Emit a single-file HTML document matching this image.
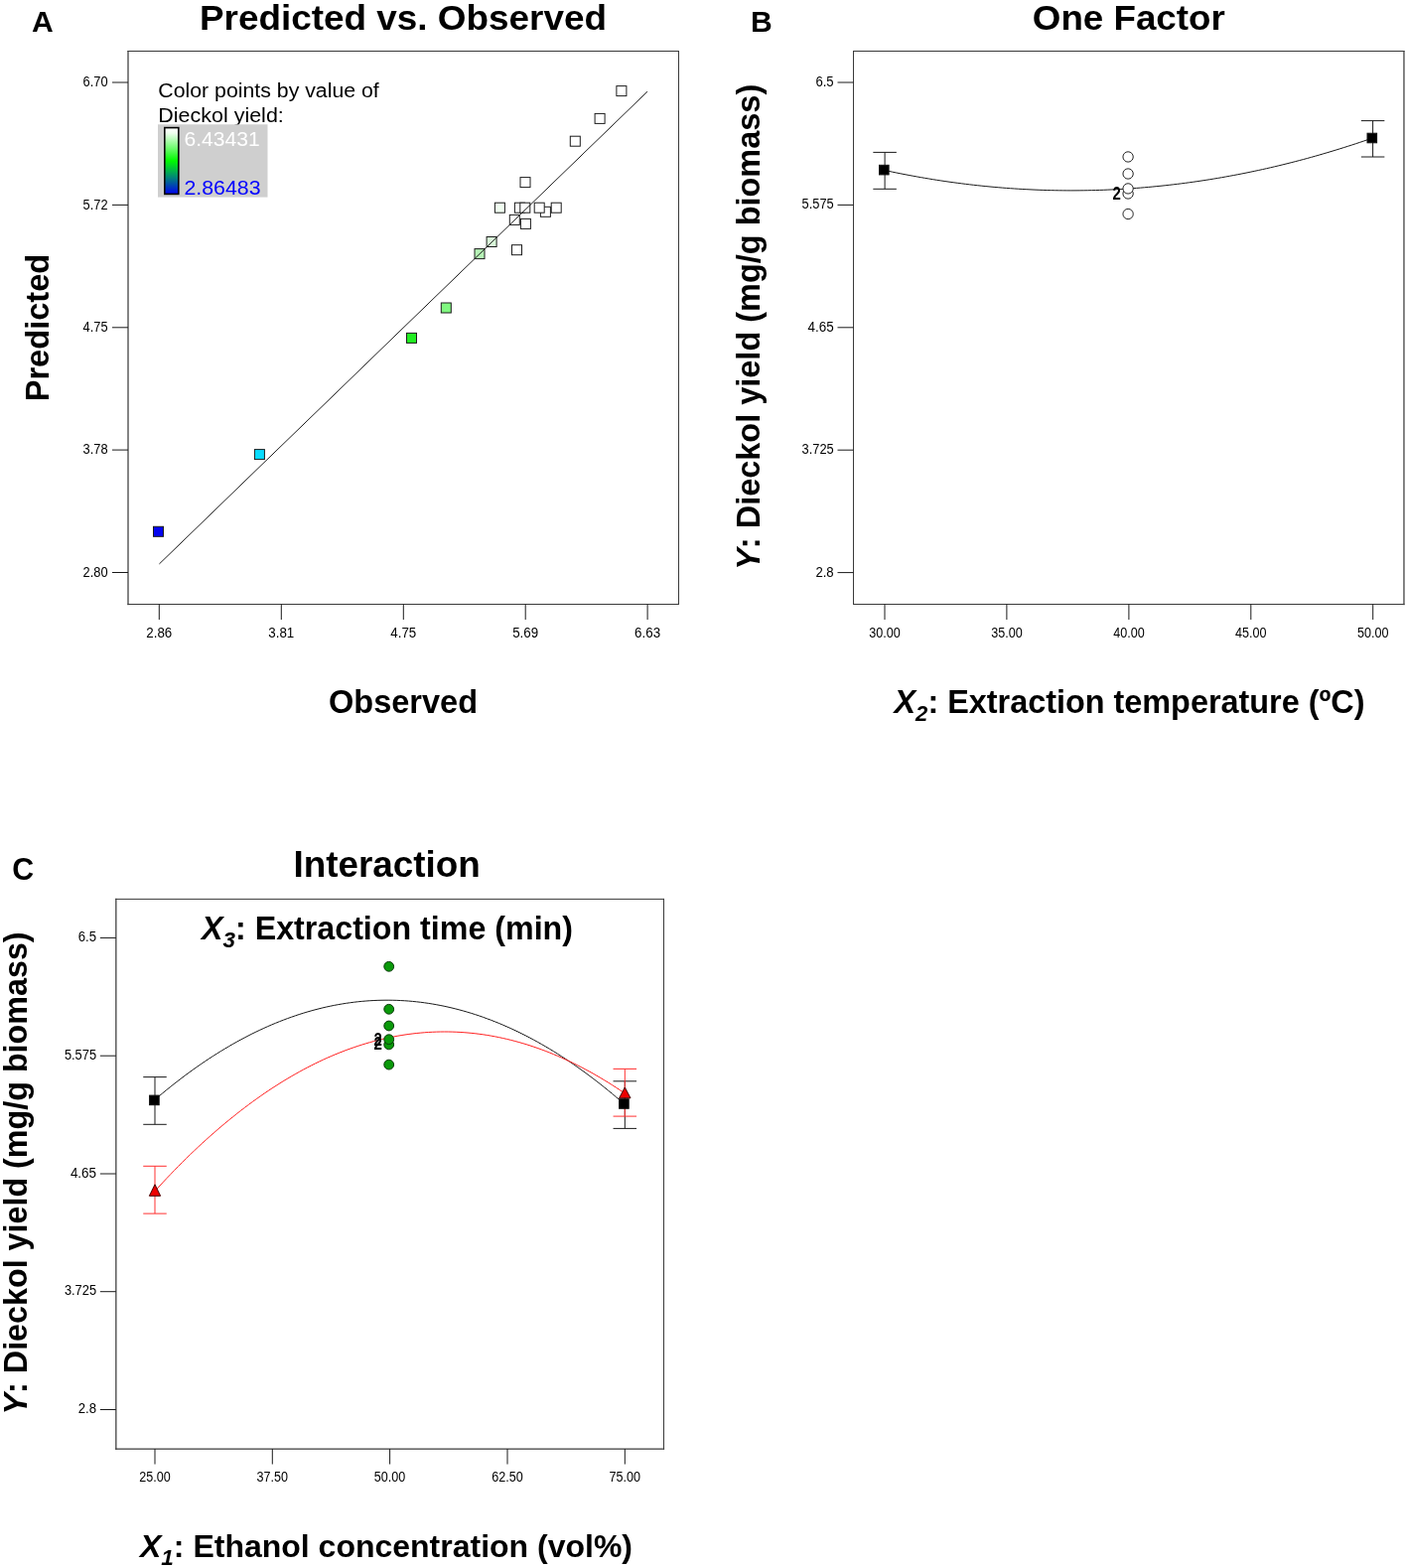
<!DOCTYPE html>
<html><head><meta charset="utf-8"><title>Figure</title>
<style>
html,body{margin:0;padding:0;background:#fff}
svg{display:block;font-family:"Liberation Sans",Arial,sans-serif}
</style></head>
<body>
<svg width="1417" height="1579" viewBox="0 0 1417 1579">
<defs><linearGradient id="cb" x1="0" y1="0" x2="0" y2="1">
<stop offset="0" stop-color="#ffffff"/><stop offset="0.08" stop-color="#f0fff0"/><stop offset="0.5" stop-color="#00fa00"/><stop offset="0.75" stop-color="#008578"/><stop offset="1" stop-color="#0000f0"/>
</linearGradient></defs>
<rect width="1417" height="1579" fill="#fff"/>
<text x="31.9" y="31.5" font-size="30.1" text-anchor="start" font-weight="bold" fill="#000">A</text>
<text x="406" y="29.8" font-size="35.8" text-anchor="middle" font-weight="bold" fill="#000" textLength="410" lengthAdjust="spacingAndGlyphs">Predicted vs. Observed</text>
<line x1="129.0" y1="51.5" x2="129.0" y2="608.5" stroke="#3a3a3a" stroke-width="1.25" stroke-linecap="square"/>
<line x1="129.0" y1="51.5" x2="683.5" y2="51.5" stroke="#3a3a3a" stroke-width="1" stroke-linecap="square"/>
<line x1="683.5" y1="51.5" x2="683.5" y2="608.5" stroke="#3a3a3a" stroke-width="1" stroke-linecap="square"/>
<line x1="129.0" y1="608.5" x2="683.5" y2="608.5" stroke="#3a3a3a" stroke-width="1" stroke-linecap="square"/>
<line x1="113.0" y1="83.0" x2="129.0" y2="83.0" stroke="#1a1a1a" stroke-width="1"/>
<text x="108.6" y="87.2" font-size="14.5" text-anchor="end" font-weight="normal" fill="#000" textLength="25.0" lengthAdjust="spacingAndGlyphs">6.70</text>
<line x1="113.0" y1="206.4" x2="129.0" y2="206.4" stroke="#1a1a1a" stroke-width="1"/>
<text x="108.6" y="210.6" font-size="14.5" text-anchor="end" font-weight="normal" fill="#000" textLength="25.0" lengthAdjust="spacingAndGlyphs">5.72</text>
<line x1="113.0" y1="329.8" x2="129.0" y2="329.8" stroke="#1a1a1a" stroke-width="1"/>
<text x="108.6" y="334.0" font-size="14.5" text-anchor="end" font-weight="normal" fill="#000" textLength="25.0" lengthAdjust="spacingAndGlyphs">4.75</text>
<line x1="113.0" y1="453.1" x2="129.0" y2="453.1" stroke="#1a1a1a" stroke-width="1"/>
<text x="108.6" y="457.3" font-size="14.5" text-anchor="end" font-weight="normal" fill="#000" textLength="25.0" lengthAdjust="spacingAndGlyphs">3.78</text>
<line x1="113.0" y1="576.5" x2="129.0" y2="576.5" stroke="#1a1a1a" stroke-width="1"/>
<text x="108.6" y="580.7" font-size="14.5" text-anchor="end" font-weight="normal" fill="#000" textLength="25.0" lengthAdjust="spacingAndGlyphs">2.80</text>
<line x1="160.3" y1="608.5" x2="160.3" y2="624.0" stroke="#1a1a1a" stroke-width="1"/>
<text x="160.3" y="642" font-size="14.5" text-anchor="middle" font-weight="normal" fill="#000" textLength="26" lengthAdjust="spacingAndGlyphs">2.86</text>
<line x1="283.3" y1="608.5" x2="283.3" y2="624.0" stroke="#1a1a1a" stroke-width="1"/>
<text x="283.3" y="642" font-size="14.5" text-anchor="middle" font-weight="normal" fill="#000" textLength="26" lengthAdjust="spacingAndGlyphs">3.81</text>
<line x1="406.3" y1="608.5" x2="406.3" y2="624.0" stroke="#1a1a1a" stroke-width="1"/>
<text x="406.3" y="642" font-size="14.5" text-anchor="middle" font-weight="normal" fill="#000" textLength="26" lengthAdjust="spacingAndGlyphs">4.75</text>
<line x1="529.2" y1="608.5" x2="529.2" y2="624.0" stroke="#1a1a1a" stroke-width="1"/>
<text x="529.2" y="642" font-size="14.5" text-anchor="middle" font-weight="normal" fill="#000" textLength="26" lengthAdjust="spacingAndGlyphs">5.69</text>
<line x1="652.1" y1="608.5" x2="652.1" y2="624.0" stroke="#1a1a1a" stroke-width="1"/>
<text x="652.1" y="642" font-size="14.5" text-anchor="middle" font-weight="normal" fill="#000" textLength="26" lengthAdjust="spacingAndGlyphs">6.63</text>
<text transform="translate(49.2,404.3) rotate(-90)" font-size="33.5" font-weight="bold" textLength="148.5" lengthAdjust="spacingAndGlyphs">Predicted</text>
<text x="406" y="718.1" font-size="32.3" text-anchor="middle" font-weight="bold" fill="#000" textLength="150" lengthAdjust="spacingAndGlyphs">Observed</text>
<text x="159.3" y="98.3" font-size="20" text-anchor="start" font-weight="normal" fill="#000" textLength="222.5" lengthAdjust="spacingAndGlyphs">Color points by value of</text>
<text x="159.3" y="123.1" font-size="20" text-anchor="start" font-weight="normal" fill="#000" textLength="126.5" lengthAdjust="spacingAndGlyphs">Dieckol yield:</text>
<rect x="159" y="125.3" width="110.5" height="73.3" fill="#cfcfcf"/>
<rect x="165.8" y="128.6" width="14" height="66.8" fill="url(#cb)" stroke="#000" stroke-width="1.6"/>
<text x="185.5" y="146.8" font-size="20" text-anchor="start" font-weight="normal" fill="#fff" textLength="76.2" lengthAdjust="spacingAndGlyphs">6.43431</text>
<text x="185.5" y="195.6" font-size="20" text-anchor="start" font-weight="normal" fill="#0000ff" textLength="77" lengthAdjust="spacingAndGlyphs">2.86483</text>
<rect x="620.9" y="86.6" width="10" height="10" fill="#fff" stroke="#1c1c1c" stroke-width="1"/>
<rect x="599.1" y="114.4" width="10" height="10" fill="#fff" stroke="#1c1c1c" stroke-width="1"/>
<rect x="574.3" y="137.2" width="10" height="10" fill="#fff" stroke="#1c1c1c" stroke-width="1"/>
<rect x="524.0" y="178.6" width="10" height="10" fill="#fff" stroke="#1c1c1c" stroke-width="1"/>
<rect x="498.4" y="204.2" width="10" height="10" fill="#f0fdf0" stroke="#1c1c1c" stroke-width="1"/>
<rect x="518.4" y="204.2" width="10" height="10" fill="#fff" stroke="#1c1c1c" stroke-width="1"/>
<rect x="523.8" y="204.2" width="10" height="10" fill="#fff" stroke="#1c1c1c" stroke-width="1"/>
<rect x="544.4" y="208.3" width="10" height="10" fill="#fff" stroke="#1c1c1c" stroke-width="1"/>
<rect x="538.2" y="204.2" width="10" height="10" fill="#fff" stroke="#1c1c1c" stroke-width="1"/>
<rect x="555.2" y="204.2" width="10" height="10" fill="#fff" stroke="#1c1c1c" stroke-width="1"/>
<rect x="513.3" y="216.4" width="10" height="10" fill="#fff" stroke="#1c1c1c" stroke-width="1"/>
<rect x="524.4" y="220.4" width="10" height="10" fill="#fff" stroke="#1c1c1c" stroke-width="1"/>
<rect x="515.5" y="246.7" width="10" height="10" fill="#fff" stroke="#1c1c1c" stroke-width="1"/>
<rect x="490.1" y="238.5" width="10" height="10" fill="#d9f9d9" stroke="#1c1c1c" stroke-width="1"/>
<rect x="478.0" y="250.6" width="10" height="10" fill="#b5f1b5" stroke="#1c1c1c" stroke-width="1"/>
<rect x="444.3" y="305.0" width="10" height="10" fill="#80f880" stroke="#1c1c1c" stroke-width="1"/>
<rect x="409.5" y="335.4" width="10" height="10" fill="#22ee22" stroke="#1c1c1c" stroke-width="1"/>
<rect x="256.4" y="452.6" width="10" height="10" fill="#08dcff" stroke="#1c1c1c" stroke-width="1"/>
<rect x="154.5" y="530.3" width="10" height="10" fill="#0505f0" stroke="#1c1c1c" stroke-width="1"/>
<line x1="160.4" y1="567.9" x2="652" y2="92.2" stroke="#1a1a1a" stroke-width="1"/>
<text x="756.0" y="31.5" font-size="30.1" text-anchor="start" font-weight="bold" fill="#000">B</text>
<text x="1136.8" y="29.8" font-size="35.8" text-anchor="middle" font-weight="bold" fill="#000" textLength="194" lengthAdjust="spacingAndGlyphs">One Factor</text>
<line x1="859.5" y1="51.5" x2="859.5" y2="608.5" stroke="#3a3a3a" stroke-width="1" stroke-linecap="square"/>
<line x1="859.5" y1="51.5" x2="1413.95" y2="51.5" stroke="#3a3a3a" stroke-width="1" stroke-linecap="square"/>
<line x1="1413.95" y1="51.5" x2="1413.95" y2="608.5" stroke="#3a3a3a" stroke-width="1.25" stroke-linecap="square"/>
<line x1="859.5" y1="608.5" x2="1413.95" y2="608.5" stroke="#3a3a3a" stroke-width="1" stroke-linecap="square"/>
<line x1="843.5" y1="83.0" x2="859.5" y2="83.0" stroke="#1a1a1a" stroke-width="1"/>
<text x="839.7" y="87.0" font-size="14.5" text-anchor="end" font-weight="normal" fill="#000" textLength="18.3" lengthAdjust="spacingAndGlyphs">6.5</text>
<line x1="843.5" y1="206.4" x2="859.5" y2="206.4" stroke="#1a1a1a" stroke-width="1"/>
<text x="839.7" y="210.4" font-size="14.5" text-anchor="end" font-weight="normal" fill="#000" textLength="32.2" lengthAdjust="spacingAndGlyphs">5.575</text>
<line x1="843.5" y1="329.8" x2="859.5" y2="329.8" stroke="#1a1a1a" stroke-width="1"/>
<text x="839.7" y="333.8" font-size="14.5" text-anchor="end" font-weight="normal" fill="#000" textLength="26.2" lengthAdjust="spacingAndGlyphs">4.65</text>
<line x1="843.5" y1="453.2" x2="859.5" y2="453.2" stroke="#1a1a1a" stroke-width="1"/>
<text x="839.7" y="457.2" font-size="14.5" text-anchor="end" font-weight="normal" fill="#000" textLength="32.2" lengthAdjust="spacingAndGlyphs">3.725</text>
<line x1="843.5" y1="576.6" x2="859.5" y2="576.6" stroke="#1a1a1a" stroke-width="1"/>
<text x="839.7" y="580.6" font-size="14.5" text-anchor="end" font-weight="normal" fill="#000" textLength="18.3" lengthAdjust="spacingAndGlyphs">2.8</text>
<line x1="891.0" y1="608.5" x2="891.0" y2="624.0" stroke="#1a1a1a" stroke-width="1"/>
<text x="891.0" y="641.9" font-size="14.5" text-anchor="middle" font-weight="normal" fill="#000" textLength="31.5" lengthAdjust="spacingAndGlyphs">30.00</text>
<line x1="1013.9" y1="608.5" x2="1013.9" y2="624.0" stroke="#1a1a1a" stroke-width="1"/>
<text x="1013.9" y="641.9" font-size="14.5" text-anchor="middle" font-weight="normal" fill="#000" textLength="31.5" lengthAdjust="spacingAndGlyphs">35.00</text>
<line x1="1136.9" y1="608.5" x2="1136.9" y2="624.0" stroke="#1a1a1a" stroke-width="1"/>
<text x="1136.9" y="641.9" font-size="14.5" text-anchor="middle" font-weight="normal" fill="#000" textLength="31.5" lengthAdjust="spacingAndGlyphs">40.00</text>
<line x1="1259.8" y1="608.5" x2="1259.8" y2="624.0" stroke="#1a1a1a" stroke-width="1"/>
<text x="1259.8" y="641.9" font-size="14.5" text-anchor="middle" font-weight="normal" fill="#000" textLength="31.5" lengthAdjust="spacingAndGlyphs">45.00</text>
<line x1="1382.7" y1="608.5" x2="1382.7" y2="624.0" stroke="#1a1a1a" stroke-width="1"/>
<text x="1382.7" y="641.9" font-size="14.5" text-anchor="middle" font-weight="normal" fill="#000" textLength="31.5" lengthAdjust="spacingAndGlyphs">50.00</text>
<text transform="translate(764.7,573.8) rotate(-90)" font-size="33.2" font-weight="bold" textLength="489" lengthAdjust="spacingAndGlyphs"><tspan font-style="italic">Y</tspan>: Dieckol yield (mg/g biomass)</text>
<text x="900.5" y="718" font-size="33" text-anchor="start" font-weight="bold" fill="#000" textLength="474" lengthAdjust="spacingAndGlyphs"><tspan font-style="italic">X</tspan><tspan font-style="italic" font-size="22.5" dy="8">2</tspan><tspan dy="-8">: Extraction temperature (ºC)</tspan></text>
<path d="M890.5,171.40 L894.6,172.28 L898.7,173.14 L902.8,173.98 L906.9,174.80 L911.0,175.60 L915.1,176.39 L919.2,177.15 L923.3,177.90 L927.4,178.62 L931.5,179.33 L935.6,180.01 L939.6,180.68 L943.7,181.33 L947.8,181.96 L951.9,182.57 L956.0,183.16 L960.1,183.73 L964.2,184.28 L968.3,184.81 L972.4,185.32 L976.5,185.82 L980.6,186.29 L984.7,186.74 L988.8,187.18 L992.9,187.60 L997.0,187.99 L1001.1,188.37 L1005.2,188.73 L1009.3,189.07 L1013.4,189.39 L1017.5,189.69 L1021.6,189.97 L1025.7,190.23 L1029.8,190.47 L1033.9,190.70 L1038.0,190.90 L1042.0,191.08 L1046.1,191.25 L1050.2,191.40 L1054.3,191.52 L1058.4,191.63 L1062.5,191.72 L1066.6,191.79 L1070.7,191.84 L1074.8,191.87 L1078.9,191.88 L1083.0,191.87 L1087.1,191.84 L1091.2,191.79 L1095.3,191.73 L1099.4,191.64 L1103.5,191.54 L1107.6,191.41 L1111.7,191.27 L1115.8,191.10 L1119.9,190.92 L1124.0,190.72 L1128.1,190.50 L1132.2,190.26 L1136.2,190.00 L1140.3,189.72 L1144.4,189.42 L1148.5,189.11 L1152.6,188.77 L1156.7,188.41 L1160.8,188.04 L1164.9,187.64 L1169.0,187.23 L1173.1,186.80 L1177.2,186.34 L1181.3,185.87 L1185.4,185.38 L1189.5,184.87 L1193.6,184.34 L1197.7,183.79 L1201.8,183.22 L1205.9,182.63 L1210.0,182.03 L1214.1,181.40 L1218.2,180.76 L1222.3,180.09 L1226.4,179.41 L1230.5,178.70 L1234.5,177.98 L1238.6,177.24 L1242.7,176.48 L1246.8,175.70 L1250.9,174.90 L1255.0,174.08 L1259.1,173.24 L1263.2,172.38 L1267.3,171.50 L1271.4,170.61 L1275.5,169.69 L1279.6,168.75 L1283.7,167.80 L1287.8,166.83 L1291.9,165.83 L1296.0,164.82 L1300.1,163.79 L1304.2,162.74 L1308.3,161.67 L1312.4,160.58 L1316.5,159.47 L1320.6,158.34 L1324.7,157.19 L1328.8,156.03 L1332.8,154.84 L1336.9,153.63 L1341.0,152.41 L1345.1,151.17 L1349.2,149.90 L1353.3,148.62 L1357.4,147.32 L1361.5,146.00 L1365.6,144.66 L1369.7,143.30 L1373.8,141.92 L1377.9,140.52 L1382.0,139.10" fill="none" stroke="#1a1a1a" stroke-width="1" stroke-linejoin="round"/>
<line x1="891.1" y1="153.4" x2="891.1" y2="190.3" stroke="#1a1a1a" stroke-width="1"/>
<line x1="879.35" y1="153.4" x2="902.85" y2="153.4" stroke="#1a1a1a" stroke-width="1"/>
<line x1="879.35" y1="190.3" x2="902.85" y2="190.3" stroke="#1a1a1a" stroke-width="1"/>
<line x1="1382.6" y1="121.6" x2="1382.6" y2="158.0" stroke="#1a1a1a" stroke-width="1"/>
<line x1="1370.85" y1="121.6" x2="1394.35" y2="121.6" stroke="#1a1a1a" stroke-width="1"/>
<line x1="1370.85" y1="158.0" x2="1394.35" y2="158.0" stroke="#1a1a1a" stroke-width="1"/>
<rect x="885.5" y="166.29999999999998" width="9.6" height="9.6" fill="#000" stroke="#111" stroke-width="1"/>
<rect x="1377.0" y="134.2" width="9.6" height="9.6" fill="#000" stroke="#111" stroke-width="1"/>
<text transform="translate(1120.6,200.7) scale(1,1.22)" font-size="15" font-weight="bold">2</text>
<circle cx="1136.1" cy="157.95" r="5.15" fill="#fff" stroke="#222" stroke-width="1"/>
<circle cx="1136.1" cy="175.0" r="5.15" fill="#fff" stroke="#222" stroke-width="1"/>
<circle cx="1136.1" cy="195.0" r="5.15" fill="#fff" stroke="#222" stroke-width="1"/>
<circle cx="1136.1" cy="189.9" r="5.15" fill="#fff" stroke="#222" stroke-width="1"/>
<circle cx="1136.1" cy="215.5" r="5.15" fill="#fff" stroke="#222" stroke-width="1"/>
<text x="12.2" y="885.9" font-size="31.5" text-anchor="start" font-weight="bold" fill="#000" textLength="21.9" lengthAdjust="spacingAndGlyphs">C</text>
<text x="389.6" y="883.1" font-size="36.2" text-anchor="middle" font-weight="bold" fill="#000" textLength="188.4" lengthAdjust="spacingAndGlyphs">Interaction</text>
<line x1="116.85" y1="905.4" x2="116.85" y2="1459.0" stroke="#3a3a3a" stroke-width="1.25" stroke-linecap="square"/>
<line x1="116.85" y1="905.4" x2="668.5" y2="905.4" stroke="#3a3a3a" stroke-width="1" stroke-linecap="square"/>
<line x1="668.5" y1="905.4" x2="668.5" y2="1459.0" stroke="#3a3a3a" stroke-width="1" stroke-linecap="square"/>
<line x1="116.85" y1="1459.0" x2="668.5" y2="1459.0" stroke="#3a3a3a" stroke-width="1.25" stroke-linecap="square"/>
<line x1="100.85" y1="944.45" x2="116.85" y2="944.45" stroke="#1a1a1a" stroke-width="1"/>
<text x="97.1" y="948.1500000000001" font-size="14.5" text-anchor="end" font-weight="normal" fill="#000" textLength="18.3" lengthAdjust="spacingAndGlyphs">6.5</text>
<line x1="100.85" y1="1063.2" x2="116.85" y2="1063.2" stroke="#1a1a1a" stroke-width="1"/>
<text x="97.1" y="1066.9" font-size="14.5" text-anchor="end" font-weight="normal" fill="#000" textLength="32.2" lengthAdjust="spacingAndGlyphs">5.575</text>
<line x1="100.85" y1="1182.0" x2="116.85" y2="1182.0" stroke="#1a1a1a" stroke-width="1"/>
<text x="97.1" y="1185.7" font-size="14.5" text-anchor="end" font-weight="normal" fill="#000" textLength="26.2" lengthAdjust="spacingAndGlyphs">4.65</text>
<line x1="100.85" y1="1300.7" x2="116.85" y2="1300.7" stroke="#1a1a1a" stroke-width="1"/>
<text x="97.1" y="1304.4" font-size="14.5" text-anchor="end" font-weight="normal" fill="#000" textLength="32.2" lengthAdjust="spacingAndGlyphs">3.725</text>
<line x1="100.85" y1="1419.5" x2="116.85" y2="1419.5" stroke="#1a1a1a" stroke-width="1"/>
<text x="97.1" y="1423.2" font-size="14.5" text-anchor="end" font-weight="normal" fill="#000" textLength="18.3" lengthAdjust="spacingAndGlyphs">2.8</text>
<line x1="156.0" y1="1459.0" x2="156.0" y2="1474.5" stroke="#1a1a1a" stroke-width="1"/>
<text x="156.0" y="1492.3" font-size="14.5" text-anchor="middle" font-weight="normal" fill="#000" textLength="31.5" lengthAdjust="spacingAndGlyphs">25.00</text>
<line x1="274.3" y1="1459.0" x2="274.3" y2="1474.5" stroke="#1a1a1a" stroke-width="1"/>
<text x="274.3" y="1492.3" font-size="14.5" text-anchor="middle" font-weight="normal" fill="#000" textLength="31.5" lengthAdjust="spacingAndGlyphs">37.50</text>
<line x1="392.6" y1="1459.0" x2="392.6" y2="1474.5" stroke="#1a1a1a" stroke-width="1"/>
<text x="392.6" y="1492.3" font-size="14.5" text-anchor="middle" font-weight="normal" fill="#000" textLength="31.5" lengthAdjust="spacingAndGlyphs">50.00</text>
<line x1="511.0" y1="1459.0" x2="511.0" y2="1474.5" stroke="#1a1a1a" stroke-width="1"/>
<text x="511.0" y="1492.3" font-size="14.5" text-anchor="middle" font-weight="normal" fill="#000" textLength="31.5" lengthAdjust="spacingAndGlyphs">62.50</text>
<line x1="629.3" y1="1459.0" x2="629.3" y2="1474.5" stroke="#1a1a1a" stroke-width="1"/>
<text x="629.3" y="1492.3" font-size="14.5" text-anchor="middle" font-weight="normal" fill="#000" textLength="31.5" lengthAdjust="spacingAndGlyphs">75.00</text>
<text transform="translate(27.1,1424.4) rotate(-90)" font-size="33" font-weight="bold" textLength="486" lengthAdjust="spacingAndGlyphs"><tspan font-style="italic">Y</tspan>: Dieckol yield (mg/g biomass)</text>
<text x="203" y="945.9" font-size="32.3" text-anchor="start" font-weight="bold" fill="#000" textLength="374" lengthAdjust="spacingAndGlyphs"><tspan font-style="italic">X</tspan><tspan font-style="italic" font-size="22.5" dy="8">3</tspan><tspan dy="-8">: Extraction time (min)</tspan></text>
<text x="141" y="1568" font-size="32" text-anchor="start" font-weight="bold" fill="#000" textLength="496" lengthAdjust="spacingAndGlyphs"><tspan font-style="italic">X</tspan><tspan font-style="italic" font-size="22.5" dy="8">1</tspan><tspan dy="-8">: Ethanol concentration (vol%)</tspan></text>
<path d="M155.4,1107.90 L159.3,1104.54 L163.3,1101.24 L167.2,1098.00 L171.2,1094.81 L175.1,1091.68 L179.1,1088.61 L183.0,1085.59 L186.9,1082.63 L190.9,1079.73 L194.8,1076.88 L198.8,1074.09 L202.7,1071.36 L206.6,1068.69 L210.6,1066.07 L214.5,1063.51 L218.5,1061.00 L222.4,1058.56 L226.4,1056.16 L230.3,1053.83 L234.2,1051.56 L238.2,1049.34 L242.1,1047.17 L246.1,1045.07 L250.0,1043.02 L253.9,1041.03 L257.9,1039.09 L261.8,1037.22 L265.8,1035.40 L269.7,1033.63 L273.6,1031.93 L277.6,1030.28 L281.5,1028.68 L285.5,1027.15 L289.4,1025.67 L293.4,1024.25 L297.3,1022.88 L301.2,1021.57 L305.2,1020.32 L309.1,1019.13 L313.1,1017.99 L317.0,1016.91 L321.0,1015.89 L324.9,1014.92 L328.8,1014.01 L332.8,1013.16 L336.7,1012.36 L340.7,1011.62 L344.6,1010.94 L348.5,1010.32 L352.5,1009.75 L356.4,1009.24 L360.4,1008.78 L364.3,1008.39 L368.2,1008.05 L372.2,1007.76 L376.1,1007.54 L380.1,1007.37 L384.0,1007.25 L388.0,1007.20 L391.9,1007.20 L395.8,1007.26 L399.8,1007.37 L403.7,1007.55 L407.7,1007.78 L411.6,1008.06 L415.5,1008.40 L419.5,1008.81 L423.4,1009.26 L427.4,1009.78 L431.3,1010.35 L435.3,1010.98 L439.2,1011.66 L443.1,1012.40 L447.1,1013.20 L451.0,1014.06 L455.0,1014.97 L458.9,1015.94 L462.9,1016.97 L466.8,1018.05 L470.7,1019.19 L474.7,1020.39 L478.6,1021.64 L482.6,1022.95 L486.5,1024.32 L490.4,1025.75 L494.4,1027.23 L498.3,1028.77 L502.3,1030.36 L506.2,1032.02 L510.1,1033.72 L514.1,1035.49 L518.0,1037.32 L522.0,1039.20 L525.9,1041.13 L529.9,1043.13 L533.8,1045.18 L537.7,1047.29 L541.7,1049.45 L545.6,1051.68 L549.6,1053.96 L553.5,1056.29 L557.5,1058.68 L561.4,1061.14 L565.3,1063.64 L569.3,1066.21 L573.2,1068.83 L577.2,1071.51 L581.1,1074.24 L585.0,1077.03 L589.0,1079.88 L592.9,1082.79 L596.9,1085.75 L600.8,1088.77 L604.8,1091.85 L608.7,1094.98 L612.6,1098.17 L616.6,1101.42 L620.5,1104.72 L624.5,1108.08 L628.4,1111.50" fill="none" stroke="#1a1a1a" stroke-width="1" stroke-linejoin="round"/>
<path d="M156.0,1199.40 L159.9,1195.10 L163.9,1190.86 L167.8,1186.68 L171.8,1182.55 L175.7,1178.48 L179.6,1174.48 L183.6,1170.53 L187.5,1166.64 L191.4,1162.80 L195.4,1159.03 L199.3,1155.31 L203.2,1151.66 L207.2,1148.06 L211.1,1144.52 L215.1,1141.03 L219.0,1137.61 L222.9,1134.25 L226.9,1130.94 L230.8,1127.69 L234.8,1124.50 L238.7,1121.37 L242.6,1118.30 L246.6,1115.28 L250.5,1112.32 L254.4,1109.43 L258.4,1106.59 L262.3,1103.81 L266.2,1101.08 L270.2,1098.42 L274.1,1095.81 L278.1,1093.27 L282.0,1090.78 L285.9,1088.35 L289.9,1085.97 L293.8,1083.66 L297.8,1081.40 L301.7,1079.21 L305.6,1077.07 L309.6,1074.99 L313.5,1072.97 L317.4,1071.00 L321.4,1069.10 L325.3,1067.25 L329.2,1065.46 L333.2,1063.73 L337.1,1062.06 L341.1,1060.45 L345.0,1058.90 L348.9,1057.40 L352.9,1055.96 L356.8,1054.58 L360.8,1053.26 L364.7,1052.00 L368.6,1050.80 L372.6,1049.65 L376.5,1048.56 L380.4,1047.54 L384.4,1046.57 L388.3,1045.65 L392.2,1044.80 L396.2,1044.01 L400.1,1043.27 L404.1,1042.59 L408.0,1041.97 L411.9,1041.41 L415.9,1040.91 L419.8,1040.46 L423.8,1040.08 L427.7,1039.75 L431.6,1039.48 L435.6,1039.27 L439.5,1039.12 L443.4,1039.02 L447.4,1038.99 L451.3,1039.01 L455.2,1039.09 L459.2,1039.23 L463.1,1039.43 L467.1,1039.69 L471.0,1040.00 L474.9,1040.37 L478.9,1040.81 L482.8,1041.30 L486.8,1041.84 L490.7,1042.45 L494.6,1043.12 L498.6,1043.84 L502.5,1044.62 L506.4,1045.46 L510.4,1046.36 L514.3,1047.32 L518.2,1048.34 L522.2,1049.41 L526.1,1050.54 L530.1,1051.73 L534.0,1052.98 L537.9,1054.29 L541.9,1055.66 L545.8,1057.08 L549.8,1058.57 L553.7,1060.11 L557.6,1061.71 L561.6,1063.37 L565.5,1065.08 L569.4,1066.86 L573.4,1068.69 L577.3,1070.59 L581.2,1072.54 L585.2,1074.55 L589.1,1076.61 L593.1,1078.74 L597.0,1080.92 L600.9,1083.17 L604.9,1085.47 L608.8,1087.83 L612.8,1090.24 L616.7,1092.72 L620.6,1095.26 L624.6,1097.85 L628.5,1100.50" fill="none" stroke="#ff2020" stroke-width="1" stroke-linejoin="round"/>
<line x1="156" y1="1084.6" x2="156" y2="1132.3" stroke="#1a1a1a" stroke-width="1"/>
<line x1="144.25" y1="1084.6" x2="167.75" y2="1084.6" stroke="#1a1a1a" stroke-width="1"/>
<line x1="144.25" y1="1132.3" x2="167.75" y2="1132.3" stroke="#1a1a1a" stroke-width="1"/>
<line x1="156" y1="1174.3" x2="156" y2="1222.1" stroke="#ff3030" stroke-width="1"/>
<line x1="144.25" y1="1174.3" x2="167.75" y2="1174.3" stroke="#ff3030" stroke-width="1"/>
<line x1="144.25" y1="1222.1" x2="167.75" y2="1222.1" stroke="#ff3030" stroke-width="1"/>
<line x1="629.3" y1="1088.8" x2="629.3" y2="1136.4" stroke="#1a1a1a" stroke-width="1"/>
<line x1="617.55" y1="1088.8" x2="641.05" y2="1088.8" stroke="#1a1a1a" stroke-width="1"/>
<line x1="617.55" y1="1136.4" x2="641.05" y2="1136.4" stroke="#1a1a1a" stroke-width="1"/>
<line x1="629.3" y1="1076.4" x2="629.3" y2="1124.1" stroke="#ff3030" stroke-width="1"/>
<line x1="617.55" y1="1076.4" x2="641.05" y2="1076.4" stroke="#ff3030" stroke-width="1"/>
<line x1="617.55" y1="1124.1" x2="641.05" y2="1124.1" stroke="#ff3030" stroke-width="1"/>
<rect x="150.6" y="1103.1000000000001" width="9.6" height="9.6" fill="#000" stroke="#111" stroke-width="1"/>
<rect x="623.6" y="1106.7" width="9.6" height="9.6" fill="#000" stroke="#111" stroke-width="1"/>
<polygon points="156,1192.8 161.6,1204.3 150.4,1204.3" fill="#ee0000" stroke="#400" stroke-width="1"/>
<polygon points="629.3,1095 635,1105.8 623.6,1105.8" fill="#ee0000" stroke="#400" stroke-width="1"/>
<text transform="translate(376.5,1053.3) scale(1,1.25)" font-size="15" font-weight="bold">2</text>
<text transform="translate(376.5,1056.8) scale(1,1.25)" font-size="15" font-weight="bold">2</text>
<circle cx="391.7" cy="973.3" r="4.9" fill="#0a990a" stroke="#0a3a0a" stroke-width="1"/>
<circle cx="391.7" cy="1016.3" r="4.9" fill="#0a990a" stroke="#0a3a0a" stroke-width="1"/>
<circle cx="391.7" cy="1033" r="4.9" fill="#0a990a" stroke="#0a3a0a" stroke-width="1"/>
<circle cx="391.7" cy="1051.9" r="4.9" fill="#0a990a" stroke="#0a3a0a" stroke-width="1"/>
<circle cx="391.7" cy="1046.7" r="4.9" fill="#0a990a" stroke="#0a3a0a" stroke-width="1"/>
<circle cx="391.7" cy="1072.1" r="4.9" fill="#0a990a" stroke="#0a3a0a" stroke-width="1"/>
</svg>
</body></html>
